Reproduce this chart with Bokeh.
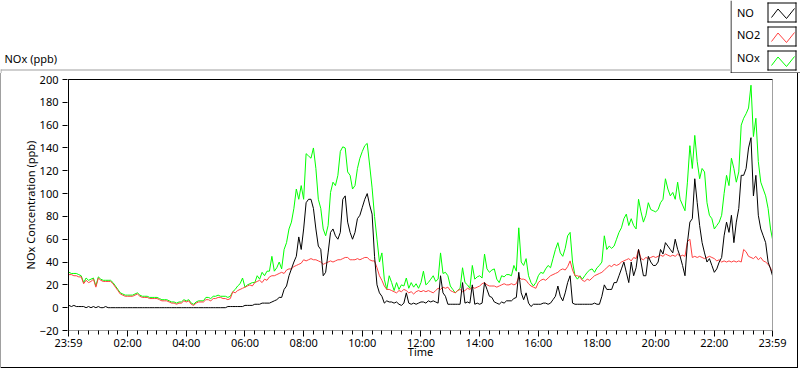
from bokeh.plotting import figure
from bokeh.models import FixedTicker, LinearAxis, Range1d, Spacer
from bokeh.layouts import column, row
from bokeh.core.properties import value
from bokeh.embed import file_html
from bokeh.resources import INLINE

FONT = "Noto Sans"
FS = "11px"

# ---- data: 5-minute readings, one row per hour (00:00 ... 23:55) + final 23:59 ----
no_ppb = [
    2, 1, 2, 1, 1, 1, 1, 0, 1, 0, 1, 0,
    1, 0, 0, 1, 0, 0, 0, 0, 0, 0, 0, 0,
    0, 0, 0, 0, 0, 0, 0, 0, 0, 0, 0, 0,
    0, 0, 0, 0, 0, 0, 0, 0, 0, 0, 0, 0,
    0, 0, 0, 0, 0, 0, 0, 0, 0, 0, 0, 0,
    0, 0, 0, 0, 0, 1, 1, 1, 1, 1, 1, 1,
    2, 2, 2, 2, 3, 3, 3, 4, 4, 4, 4, 5,
    6, 7, 9, 9, 16, 19, 28, 34, 40, 45, 62, 51,
    69, 92, 95, 95, 87, 69, 54, 51, 28, 31, 48, 66,
    69, 63, 60, 66, 95, 98, 75, 66, 60, 66, 78, 81,
    88, 95, 100, 90, 82, 45, 20, 13, 10, 4, 6, 5,
    5, 4, 5, 3, 2, 4, 13, 4, 3, 4, 3, 4,
    5, 5, 4, 6, 5, 6, 5, 4, 28, 13, 10, 3,
    3, 3, 3, 3, 3, 22, 4, 5, 4, 20, 3, 4,
    3, 4, 22, 16, 10, 9, 5, 4, 3, 5, 4, 6,
    6, 6, 8, 9, 31, 13, 7, 13, 4, 1, 3, 3,
    3, 3, 4, 4, 3, 4, 7, 10, 19, 10, 6, 13,
    22, 28, 4, 3, 3, 3, 3, 3, 3, 3, 3, 4,
    3, 3, 10, 20, 16, 16, 16, 22, 22, 28, 34, 40,
    31, 22, 40, 28, 35, 51, 40, 28, 28, 45, 40, 37,
    37, 40, 51, 47, 57, 54, 51, 48, 60, 51, 45, 37,
    28, 57, 75, 78, 113, 92, 72, 57, 48, 40, 43, 37,
    31, 34, 40, 44, 63, 75, 66, 81, 57, 75, 87, 116,
    116, 122, 140, 149, 98, 116, 81, 69, 63, 57, 40, 34,
    28,
]
no2_ppb = [
    29, 29, 28, 28, 27, 27, 21, 24, 22, 23, 25, 18,
    26, 24, 23, 23, 23, 23, 21, 18, 15, 12, 11, 10,
    10, 10, 10, 11, 12, 10, 9, 9, 9, 8, 8, 8,
    8, 7, 6, 6, 6, 5, 4, 4, 3, 4, 4, 6,
    5, 6, 3, 2, 4, 5, 5, 5, 7, 7, 6, 8,
    8, 9, 9, 8, 8, 7, 8, 14, 13, 15, 16, 17,
    18, 19, 20, 19, 22, 23, 24, 22, 25, 24, 27, 28,
    28, 29, 30, 31, 30, 33, 34, 34, 36, 37, 38, 39,
    42, 41, 42, 43, 42, 42, 41, 40, 38, 39, 40, 41,
    40, 41, 42, 42, 43, 44, 44, 42, 42, 42, 43, 42,
    43, 44, 44, 42, 41, 41, 35, 28, 24, 19, 16, 16,
    15, 14, 13, 15, 14, 16, 15, 13, 14, 12, 14, 15,
    14, 15, 14, 15, 14, 13, 15, 17, 16, 18, 17, 18,
    15, 14, 13, 15, 16, 14, 15, 17, 16, 18, 17, 18,
    19, 21, 22, 20, 19, 19, 19, 18, 19, 20, 21, 20,
    20, 21, 20, 21, 27, 25, 25, 24, 21, 19, 18, 17,
    22, 24, 25, 24, 26, 28, 29, 30, 31, 33, 34, 33,
    36, 41, 33, 28, 28, 27, 24, 23, 25, 24, 26, 28,
    29, 30, 31, 33, 35, 37, 36, 38, 37, 38, 40, 41,
    42, 43, 41, 44, 43, 51, 43, 42, 44, 43, 44, 45,
    44, 45, 46, 45, 47, 46, 45, 46, 45, 47, 45, 46,
    45, 58, 60, 44, 45, 44, 45, 44, 43, 44, 45, 44,
    43, 41, 42, 40, 41, 40, 41, 40, 41, 40, 41, 40,
    51, 49, 45, 44, 43, 45, 42, 44, 41, 40, 38, 35,
    30,
]
nox_ppb = [
    31, 30, 30, 30, 29, 28, 22, 26, 24, 25, 26, 19,
    27, 25, 24, 24, 24, 24, 22, 19, 16, 13, 12, 11,
    11, 11, 11, 12, 13, 11, 10, 10, 10, 9, 9, 9,
    9, 8, 7, 7, 7, 6, 5, 5, 4, 5, 5, 7,
    6, 7, 4, 3, 5, 6, 6, 6, 9, 9, 8, 10,
    10, 11, 10, 10, 10, 9, 10, 14, 16, 19, 21, 26,
    18, 20, 21, 22, 22, 28, 25, 31, 28, 32, 32, 45,
    32, 35, 40, 34, 51, 57, 69, 75, 87, 104, 95, 107,
    95, 135, 133, 131, 140, 122, 95, 87, 69, 63, 72, 101,
    110, 107, 116, 137, 141, 140, 119, 116, 104, 107, 122, 131,
    137, 142, 144, 125, 105, 80, 60, 40, 48, 25, 16, 28,
    22, 15, 22, 16, 20, 19, 26, 17, 22, 18, 21, 17,
    22, 32, 20, 22, 25, 28, 23, 25, 48, 30, 31, 28,
    19, 16, 13, 15, 17, 35, 22, 20, 17, 37, 25, 27,
    28, 26, 47, 34, 31, 33, 34, 25, 22, 28, 27, 29,
    29, 28, 37, 32, 70, 40, 37, 43, 28, 22, 19, 22,
    28, 31, 30, 34, 37, 35, 43, 51, 57, 48, 45, 52,
    63, 66, 40, 28, 25, 28, 25, 28, 31, 33, 34, 31,
    35, 37, 40, 63, 51, 54, 52, 54, 60, 66, 70, 78,
    82, 72, 78, 72, 69, 95, 84, 75, 81, 92, 86, 85,
    84, 86, 92, 95, 113, 104, 98, 101, 95, 110, 95, 90,
    85, 110, 142, 122, 151, 128, 113, 122, 119, 92, 81, 78,
    69, 72, 75, 81, 100, 116, 107, 131, 122, 110, 119, 160,
    166, 170, 175, 195, 150, 166, 128, 110, 104, 98, 87, 69,
    60,
]
# minutes after midnight of each reading
minutes = [5 * k for k in range(288)] + [1439]

x_ticks = [-1, 120, 240, 360, 480, 600, 720, 840, 960, 1080, 1200, 1320, 1439]
x_tick_labels = ["23:59", "02:00", "04:00", "06:00", "08:00", "10:00", "12:00",
                 "14:00", "16:00", "18:00", "20:00", "22:00", "23:59"]
x_minor = [m for m in range(20, 1440, 20) if m % 120 != 0]
y_ticks = [-20, 0, 20, 40, 60, 80, 100, 120, 140, 160, 180, 200]

series_names = ["NO", "NO2", "NOx"]
series_colors = ["#000000", "#ff4040", "#00ff00"]
chart_title = "NOx (ppb)"

GRAY = "#a0a0a0"
TOP_H = 73           # height of the header strip (title + legend)
MAIN_W, MAIN_H = 796, 294


def deco_fig(w, h):
    f = figure(width=w, height=h, x_range=Range1d(0, w), y_range=Range1d(h, 0),
               x_axis_type=None, y_axis_type=None, output_backend="svg",
               toolbar_location=None, min_border=0, outline_line_color=None,
               background_fill_color="white", border_fill_color="white")
    return f


# ---- header left: title + outer frame corner ----
head = deco_fig(730, TOP_H)
head.text(x=[4], y=[57.5], text=[chart_title], text_font=value(FONT),
          text_font_size=FS, text_color="black", text_baseline="middle",
          text_align="left")
head.quad(left=[0, 0], right=[730, 1], top=[69, 69], bottom=[70, TOP_H],
          fill_color=GRAY, line_color=None)

# ---- header right: legend ----
leg = deco_fig(70, TOP_H)
leg.quad(left=[0, 0], right=[1, 70], top=[0, 72], bottom=[73, 73],
         fill_color="black", line_color=None)
label_y = [11.8, 33.8, 56.8]
for i, (name, col) in enumerate(zip(series_names, series_colors)):
    y0 = 2 + 24 * i
    leg.text(x=[6.5], y=[label_y[i]], text=[name], text_font=value(FONT),
             text_font_size=FS, text_color="black", text_baseline="middle",
             text_align="left")
    leg.quad(left=[37, 37, 37, 65], right=[66, 66, 38, 66],
             top=[y0, y0 + 19, y0, y0], bottom=[y0 + 1, y0 + 20, y0 + 20, y0 + 20],
             fill_color="black", line_color=None)
    leg.line(x=[41, 47.5, 56, 64], y=[y0 + 15, y0 + 6.5, y0 + 16, y0 + 6],
             line_color=col, line_width=1)

# ---- main chart ----
L, R, T, B = 67, 771, 6, 257
p = figure(width=MAIN_W, height=MAIN_H, x_range=Range1d(-1, 1439),
           y_range=Range1d(-20, 200), output_backend="svg", toolbar_location=None,
           min_border_left=L, min_border_right=MAIN_W - R, min_border_top=T,
           min_border_bottom=MAIN_H - B, background_fill_color="white",
           border_fill_color="white", outline_line_color="black")
p.xgrid.visible = False
p.ygrid.visible = False

p.line(minutes, nox_ppb, line_color=series_colors[2], line_width=1)
p.line(minutes, no2_ppb, line_color=series_colors[1], line_width=1)
p.line(minutes, no_ppb, line_color=series_colors[0], line_width=1)

for ax in (p.xaxis[0], p.yaxis[0]):
    ax.major_label_text_font = FONT
    ax.major_label_text_font_size = FS
    ax.major_label_text_color = "black"
    ax.axis_label_text_font = FONT
    ax.axis_label_text_font_size = FS
    ax.axis_label_text_font_style = "normal"
    ax.axis_label_text_color = "black"
    ax.minor_tick_in = 0
    ax.major_tick_line_color = "black"

xa = p.xaxis[0]
xa.ticker = FixedTicker(ticks=x_ticks, minor_ticks=x_minor)
xa.major_label_overrides = dict(zip(x_ticks, x_tick_labels))
xa.axis_label = "Time"
xa.axis_line_color = GRAY
xa.major_tick_in = 0
xa.major_tick_out = 6
xa.minor_tick_out = 4
xa.minor_tick_line_color = "black"
xa.major_label_standoff = -2
xa.axis_label_standoff = -9

ya = p.yaxis[0]
ya.ticker = FixedTicker(ticks=y_ticks)
ya.axis_label = "NOx Concentration (ppb)"
ya.axis_line_color = "black"
ya.major_tick_in = -1
ya.major_tick_out = 6
ya.minor_tick_line_color = None
ya.major_label_standoff = 4
ya.axis_label_standoff = -1

right_ax = LinearAxis(ticker=FixedTicker(ticks=[]), axis_line_color=GRAY,
                      major_tick_line_color=None, minor_tick_line_color=None,
                      major_label_text_font_size="0px")
p.add_layout(right_ax, "right")

layout = column(
    row(head, leg),
    row(Spacer(width=1, height=MAIN_H, styles={"background-color": GRAY}),
        p,
        Spacer(width=1, height=MAIN_H, styles={"background-color": "#000000"}),
        Spacer(width=2, height=MAIN_H)),
    row(Spacer(width=1, height=1, styles={"background-color": GRAY}),
        Spacer(width=797, height=1, styles={"background-color": "#000000"})),
)

open("out.html", "w").write(file_html(layout, INLINE))
